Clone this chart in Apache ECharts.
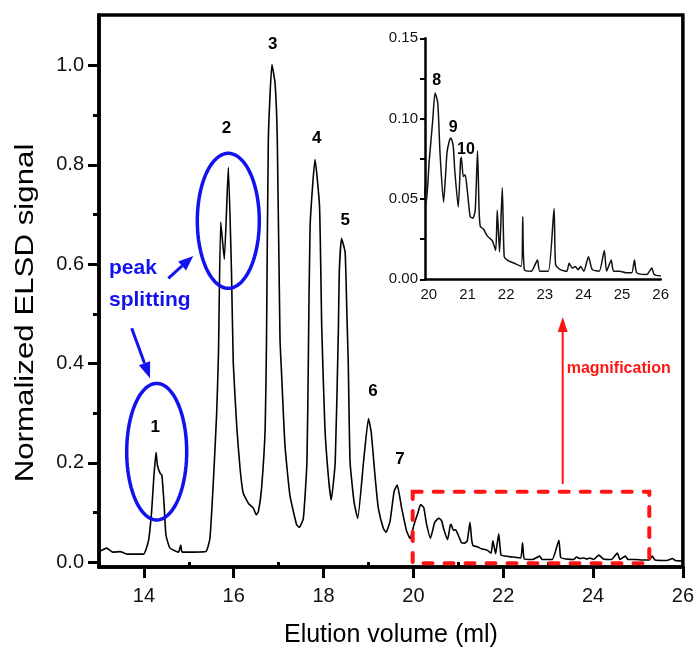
<!DOCTYPE html>
<html>
<head>
<meta charset="utf-8">
<script src="https://cdn.jsdelivr.net/npm/echarts@6/dist/echarts.min.js"></script>
<style>
  html, body { margin: 0; padding: 0; background: #fff; }
  #chart { width: 697px; height: 653px; }
</style>
</head>
<body>
<div id="chart"></div>
<script>
// Chromatogram: elution volume (ml) vs normalized ELSD signal
const elutionMl = [
  13.03, 13.17, 13.31, 13.47, 13.62, 13.99, 14.10, 14.17, 14.22, 14.27,
  14.30, 14.36, 14.40, 14.45, 14.49, 14.58, 14.77, 14.82, 14.85, 15.10,
  15.38, 15.47, 15.55, 15.62, 15.66, 15.71, 15.79, 15.88, 15.95, 15.99,
  16.07, 16.14, 16.21, 16.33, 16.44, 16.50, 16.55, 16.62, 16.70, 16.73,
  16.77, 16.85, 16.92, 16.97, 17.03, 17.07, 17.14, 17.25, 17.40, 17.46,
  17.55, 17.63, 17.66, 17.70, 17.81, 17.91, 17.96, 18.03, 18.11, 18.17,
  18.26, 18.33, 18.35, 18.40, 18.48, 18.52, 18.55, 18.59, 18.68, 18.76,
  18.89, 19.00, 19.06, 19.15, 19.22, 19.33, 19.39, 19.48, 19.57, 19.64,
  19.74, 19.85, 19.93, 20.01, 20.10, 20.16, 20.23, 20.29, 20.38, 20.43,
  20.47, 20.54, 20.57, 20.63, 20.67, 20.76, 20.82, 20.84, 20.89, 20.94,
  21.00, 21.07, 21.14, 21.20, 21.26, 21.30, 21.33, 21.42, 21.51, 21.64,
  21.73, 21.77, 21.83, 21.90, 21.95, 22.03, 22.21, 22.39, 22.43, 22.47,
  22.65, 22.81, 22.87, 23.09, 23.24, 23.28, 23.40, 23.57, 23.63, 23.71,
  23.79, 23.86, 23.93, 24.01, 24.13, 24.23, 24.41, 24.54, 24.60, 24.72,
  24.78, 24.94, 25.11, 25.25, 25.32, 25.38, 25.64, 25.77, 25.83, 26.00
];
const elsdSignal = [
  0.022, 0.028, 0.020, 0.021, 0.016, 0.016, 0.042, 0.100, 0.170, 0.221,
  0.195, 0.179, 0.175, 0.115, 0.055, 0.028, 0.020, 0.034, 0.020, 0.020,
  0.021, 0.048, 0.169, 0.300, 0.420, 0.685, 0.610, 0.795, 0.584, 0.400,
  0.269, 0.189, 0.139, 0.118, 0.108, 0.095, 0.102, 0.149, 0.270, 0.450,
  0.851, 1.002, 0.965, 0.850, 0.450, 0.370, 0.236, 0.135, 0.075, 0.070,
  0.088, 0.202, 0.400, 0.677, 0.811, 0.717, 0.470, 0.270, 0.169, 0.125,
  0.202, 0.470, 0.584, 0.652, 0.624, 0.497, 0.400, 0.202, 0.120, 0.088,
  0.202, 0.289, 0.262, 0.169, 0.108, 0.068, 0.060, 0.082, 0.142, 0.155,
  0.108, 0.062, 0.047, 0.074, 0.099, 0.116, 0.110, 0.078, 0.048, 0.064,
  0.079, 0.087, 0.088, 0.083, 0.068, 0.045, 0.074, 0.076, 0.064, 0.065,
  0.054, 0.039, 0.038, 0.043, 0.080, 0.043, 0.033, 0.031, 0.027, 0.024,
  0.018, 0.043, 0.017, 0.057, 0.014, 0.012, 0.010, 0.008, 0.039, 0.006,
  0.005, 0.012, 0.005, 0.005, 0.044, 0.009, 0.006, 0.005, 0.010, 0.007,
  0.008, 0.006, 0.008, 0.005, 0.014, 0.006, 0.005, 0.018, 0.005, 0.012,
  0.005, 0.005, 0.004, 0.004, 0.012, 0.004, 0.003, 0.007, 0.003, 0.002
];

// Peak numbering on the main trace (label anchor in data units)
const mainPeakNames = ['1', '2', '3', '4', '5', '6', '7'];
const mainPeakLabelX = [14.25, 15.84, 16.87, 17.85, 18.48, 19.10, 19.70];
const mainPeakLabelY = [0.271, 0.873, 1.043, 0.853, 0.689, 0.343, 0.206];

// Peak numbering in the magnified view
const insetPeakNames = ['8', '9', '10'];
const insetPeakLabelX = [20.20, 20.63, 20.96];
const insetPeakLabelY = [0.1236, 0.0946, 0.0810];

// Axis ticks
const mainXLabels = [14, 16, 18, 20, 22, 24, 26];
const mainXMinor = [13, 15, 17, 19, 21, 23, 25];
const mainYLabels = [0, 0.2, 0.4, 0.6, 0.8, 1.0];
const mainYMinor = [0.1, 0.3, 0.5, 0.7, 0.9];
const insetXLabels = [20, 21, 22, 23, 24, 25, 26];

const trace = elutionMl.map((x, i) => [x, elsdSignal[i]]);
const FONT = '"Liberation Sans", Arial, sans-serif';
const INK = '#111';
const BLUE = '#1212ee';
const RED = '#ff1414';

function ellipse(cx, cy, rx, ry) {
  const pts = [];
  for (let k = 0; k < 90; k++) {
    const a = (k / 90) * Math.PI * 2;
    pts.push([cx + rx * Math.cos(a), cy + ry * Math.sin(a)]);
  }
  return {
    type: 'polygon', shape: { points: pts }, z: 100,
    style: { fill: 'none', stroke: BLUE, lineWidth: 3.5 }
  };
}

function arrow(x1, y1, x2, y2, color, width, headLen, headHalf) {
  const ang = Math.atan2(y2 - y1, x2 - x1);
  const bx = x2 - headLen * Math.cos(ang), by = y2 - headLen * Math.sin(ang);
  const nx = -Math.sin(ang) * headHalf, ny = Math.cos(ang) * headHalf;
  return [
    { type: 'line', z: 100, shape: { x1: x1, y1: y1, x2: bx, y2: by },
      style: { stroke: color, lineWidth: width } },
    { type: 'polygon', z: 100,
      shape: { points: [[x2, y2], [bx + nx, by + ny], [bx - nx, by - ny]] },
      style: { fill: color } }
  ];
}

const chart = echarts.init(document.getElementById('chart'), null, { renderer: 'canvas' });

const peakLabelSeries = (names, xs, ys, xi, yi, size) => ({
  type: 'scatter', xAxisIndex: xi, yAxisIndex: yi, symbolSize: 0, z: 5,
  itemStyle: { opacity: 1 },
  data: names.map((n, i) => ({ name: n, value: [xs[i], ys[i]] })),
  label: { show: true, position: 'inside', formatter: '{b}', opacity: 1,
    fontFamily: FONT, fontWeight: 'bold', fontSize: size, color: '#000' }
});

const option = {
  animation: false,
  backgroundColor: '#fff',
  grid: [
    { left: 99, right: 14, top: 15, bottom: 84.3, show: true,
      borderColor: '#000', borderWidth: 3.5, backgroundColor: 'transparent' },
    { left: 425, top: 38.3, width: 235.7, height: 241 }
  ],
  xAxis: [
    { type: 'value', gridIndex: 0, min: 13, max: 26,
      name: 'Elution volume (ml)', nameLocation: 'middle', nameGap: 56,
      nameTextStyle: { fontFamily: FONT, fontSize: 25, color: '#000' },
      axisLine: { show: true, onZero: false, lineStyle: { color: '#000', width: 3.5 } },
      axisTick: { show: true, customValues: mainXLabels, length: 11,
        lineStyle: { color: '#000', width: 3 } },
      axisLabel: { show: true, customValues: mainXLabels, margin: 19,
        fontFamily: FONT, fontSize: 20, color: INK },
      splitLine: { show: false } },
    { type: 'value', gridIndex: 0, position: 'bottom', min: 13, max: 26,
      axisLine: { show: false },
      axisTick: { show: true, customValues: mainXMinor, length: 6,
        lineStyle: { color: '#000', width: 3 } },
      axisLabel: { show: false }, splitLine: { show: false } },
    { type: 'value', gridIndex: 1, min: 19.9, max: 26,
      axisLine: { show: true, onZero: false, lineStyle: { color: '#000', width: 2.5 } },
      axisTick: { show: false },
      axisLabel: { show: true, customValues: insetXLabels, margin: 8,
        fontFamily: FONT, fontSize: 15, color: INK },
      splitLine: { show: false } }
  ],
  yAxis: [
    { type: 'value', gridIndex: 0, min: -0.01, max: 1.102,
      axisLine: { show: true, onZero: false, lineStyle: { color: '#000', width: 3.5 } },
      axisTick: { show: true, customValues: mainYLabels, length: 11,
        lineStyle: { color: '#000', width: 3 } },
      axisLabel: { show: true, customValues: mainYLabels, margin: 15,
        fontFamily: FONT, fontSize: 20, color: INK,
        formatter: v => v.toFixed(1) },
      splitLine: { show: false } },
    { type: 'value', gridIndex: 0, position: 'left', min: -0.01, max: 1.102,
      axisLine: { show: false },
      axisTick: { show: true, customValues: mainYMinor, length: 6,
        lineStyle: { color: '#000', width: 3 } },
      axisLabel: { show: false }, splitLine: { show: false } },
    { type: 'value', gridIndex: 1, min: 0, max: 0.15, interval: 0.05,
      axisLine: { show: true, onZero: false, lineStyle: { color: '#000', width: 2.5 } },
      axisTick: { show: true, length: 5, lineStyle: { color: '#000', width: 2 } },
      minorTick: { show: true, splitNumber: 2, length: 5, lineStyle: { color: '#000', width: 2 } },
      axisLabel: { show: true, margin: 7, fontFamily: FONT, fontSize: 15, color: INK,
        formatter: v => v.toFixed(2) },
      splitLine: { show: false } }
  ],
  series: [
    { type: 'line', xAxisIndex: 0, yAxisIndex: 0, data: trace,
      showSymbol: false, smooth: 0.15, clip: true,
      lineStyle: { color: '#000', width: 1.6 } },
    peakLabelSeries(mainPeakNames, mainPeakLabelX, mainPeakLabelY, 0, 0, 17),
    { type: 'line', xAxisIndex: 2, yAxisIndex: 2, data: trace,
      showSymbol: false, smooth: 0.2, clip: true,
      lineStyle: { color: '#111', width: 1.5 } },
    peakLabelSeries(insetPeakNames, insetPeakLabelX, insetPeakLabelY, 2, 2, 16)
  ],
  graphic: [
    // axis title on the left
    { type: 'text', x: 26, y: 313, rotation: Math.PI / 2, scaleX: 1.25, z: 100,
      style: { text: 'Normalized ELSD signal', fontFamily: FONT, fontSize: 25,
        fill: '#000', align: 'center', verticalAlign: 'middle' } },
    // peak splitting annotation
    ellipse(156.7, 451.7, 30, 68.3),
    ellipse(228.3, 220.8, 31, 67.5),
    { type: 'text', x: 109, y: 268, z: 100,
      style: { text: 'peak', fontFamily: FONT, fontWeight: 'bold', fontSize: 21,
        fill: BLUE, align: 'left', verticalAlign: 'middle' } },
    { type: 'text', x: 109, y: 300, z: 100,
      style: { text: 'splitting', fontFamily: FONT, fontWeight: 'bold', fontSize: 21,
        fill: BLUE, align: 'left', verticalAlign: 'middle' } },
    ...arrow(168.3, 278.3, 193.3, 256, BLUE, 3, 15, 6),
    ...arrow(131.7, 328.3, 150, 378.3, BLUE, 3, 16, 6),
    // magnified region marker
    { type: 'rect', z: 100,
      shape: { x: 412.7, y: 491.7, width: 236.6, height: 71.6 },
      style: { fill: 'none', stroke: RED, lineWidth: 4, lineDash: [9, 12], lineCap: 'round' } },
    ...arrow(562.7, 484, 562.7, 317, RED, 2, 15, 5),
    { type: 'text', x: 566.7, y: 368.3, z: 100,
      style: { text: 'magnification', fontFamily: FONT, fontWeight: 'bold', fontSize: 16,
        fill: RED, align: 'left', verticalAlign: 'middle' } }
  ]
};

chart.setOption(option);
</script>
</body>
</html>
